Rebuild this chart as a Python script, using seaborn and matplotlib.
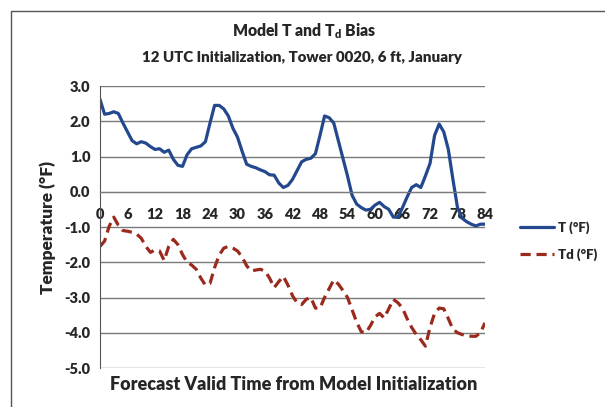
import matplotlib
matplotlib.use('Agg')
import matplotlib.pyplot as plt
from matplotlib.patches import Rectangle
import seaborn as sns
import pandas as pd

# forecast hours 0..84, hourly bias values
hours = list(range(85))
t_bias = [2.62, 2.20, 2.22, 2.27, 2.22, 1.95, 1.70, 1.45, 1.36, 1.42,
          1.38, 1.28, 1.20, 1.22, 1.12, 1.18, 0.92, 0.75, 0.72, 1.05,
          1.22, 1.26, 1.30, 1.42, 1.95, 2.45, 2.45, 2.35, 2.15, 1.80,
          1.55, 1.15, 0.78, 0.72, 0.68, 0.62, 0.57, 0.48, 0.47, 0.25,
          0.12, 0.18, 0.35, 0.60, 0.85, 0.92, 0.95, 1.08, 1.60, 2.15,
          2.10, 1.95, 1.45, 0.95, 0.45, -0.10, -0.35, -0.45, -0.52, -0.50,
          -0.38, -0.30, -0.42, -0.50, -0.72, -0.72, -0.45, -0.15, 0.12, 0.20,
          0.12, 0.45, 0.80, 1.60, 1.92, 1.70, 1.20, 0.35, -0.45, -0.75,
          -0.85, -0.92, -0.97, -0.92, -0.92]
td_bias = [-1.55, -1.40, -0.98, -0.72, -0.95, -1.10, -1.12, -1.15, -1.20, -1.32,
           -1.55, -1.72, -1.65, -1.68, -1.95, -1.55, -1.35, -1.50, -1.78, -2.00,
           -2.08, -2.20, -2.45, -2.65, -2.60, -2.15, -1.80, -1.60, -1.55, -1.60,
           -1.68, -1.85, -2.10, -2.25, -2.22, -2.20, -2.25, -2.45, -2.72, -2.55,
           -2.40, -2.65, -2.95, -3.15, -3.20, -3.05, -3.00, -3.30, -3.30, -3.00,
           -2.75, -2.50, -2.62, -2.80, -3.00, -3.35, -3.70, -3.97, -4.00, -3.80,
           -3.55, -3.45, -3.58, -3.32, -3.05, -3.15, -3.30, -3.60, -3.85, -4.05,
           -4.20, -4.38, -3.85, -3.45, -3.30, -3.32, -3.60, -3.90, -4.00, -4.05,
           -4.08, -4.10, -4.10, -4.00, -3.72]
x_ticks = list(range(0, 85, 6))
y_ticks = [3.0, 2.0, 1.0, 0.0, -1.0, -2.0, -3.0, -4.0, -5.0]

df = pd.DataFrame({'hour': hours, 'T': t_bias, 'Td': td_bias})

sns.set_style('white')
plt.rcParams['font.family'] = ['Lato', 'DejaVu Sans']
plt.rcParams['font.weight'] = 'heavy'
plt.rcParams['mathtext.fontset'] = 'custom'
plt.rcParams['mathtext.bf'] = 'Lato:heavy'
plt.rcParams['mathtext.rm'] = 'Lato:heavy'

fig = plt.figure(figsize=(6.05, 4.07), dpi=100)
fig.patches.append(Rectangle((11 / 605, -0.1), 1.2, 1 - 11 / 407 + 0.1,
                             transform=fig.transFigure, fill=False,
                             edgecolor='#555555', lw=1))
ax = fig.add_axes([100 / 605, 1 - 368 / 407, 385 / 605, 282 / 407])

sns.lineplot(data=df, x='hour', y='T', ax=ax, color='#24488E', lw=2.3,
             label='T (\u00b0F)')
sns.lineplot(data=df, x='hour', y='Td', ax=ax, color='#9A2A1C', lw=2.3,
             label='Td (\u00b0F)')
ax.lines[1].set_linestyle((0, (3.2, 1.8)))

ax.set_xlim(0, 84)
ax.set_ylim(-5.0, 3.0)
ax.set_xticks(x_ticks)
ax.set_yticks(y_ticks)
ax.set_yticklabels([f'{v:.1f}' for v in y_ticks])
ax.yaxis.grid(True, color='#7a7a7a', lw=1)
ax.set_axisbelow(True)

for s in ['top', 'right']:
    ax.spines[s].set_visible(False)
ax.spines['bottom'].set_position(('data', 0))
ax.spines['bottom'].set_color('#7a7a7a')
ax.spines['left'].set_color('#555555')
ax.tick_params(axis='both', direction='out', length=4, width=1,
               color='#555555', labelsize=10.5, pad=3)
ax.tick_params(axis='x', pad=8)
for lab in ax.get_xticklabels() + ax.get_yticklabels():
    lab.set_fontweight('heavy')

ax.set_xlabel('')
ax.set_ylabel('Temperature (\u00b0F)', fontsize=12.5, fontweight='heavy', labelpad=6)
fig.text(294 / 605, 1 - 385 / 407, 'Forecast Valid Time from Model Initialization',
         ha='center', va='center', fontsize=13, fontweight='heavy')

fig.text(304 / 605, 1 - 31 / 407, 'Model T and T$_{\\mathrm{d}}$ Bias',
         ha='center', va='center', fontsize=11.3, fontweight='heavy')
fig.text(302 / 605, 1 - 58 / 407, '12 UTC Initialization, Tower 0020, 6 ft, January',
         ha='center', va='center', fontsize=10.8, fontweight='heavy')

ax.legend(loc='center left', bbox_to_anchor=(1.06, 0.45), frameon=False,
          fontsize=9.5, handlelength=2.6, labelspacing=1.1, handletextpad=0.3)
for txt in ax.get_legend().get_texts():
    txt.set_fontweight('heavy')

fig.savefig('out.png', dpi=100)
